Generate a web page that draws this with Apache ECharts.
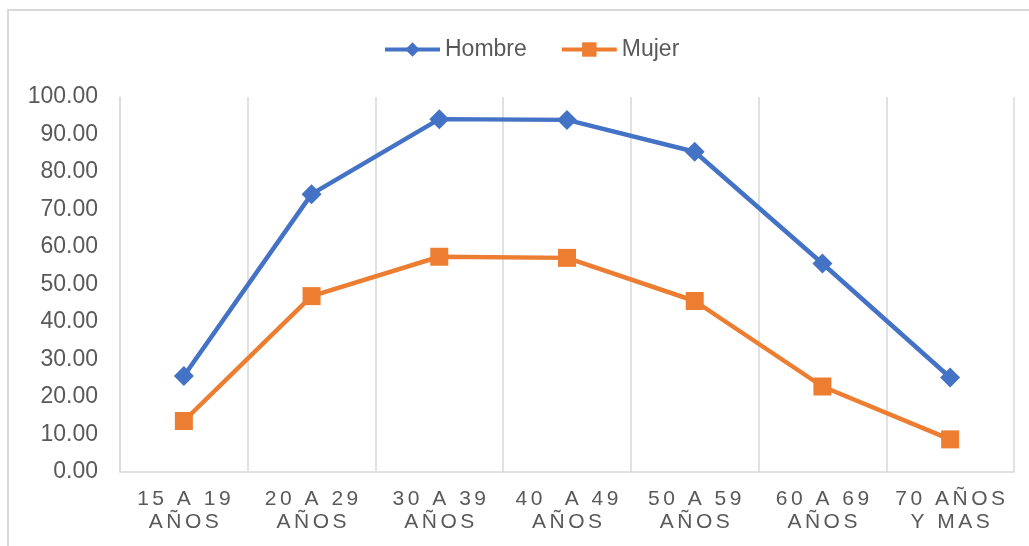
<!DOCTYPE html>
<html>
<head>
<meta charset="utf-8">
<style>
  html, body { margin: 0; padding: 0; background: #fff; }
  #chart { width: 1029px; height: 546px; }
</style>
<script src="https://cdn.jsdelivr.net/npm/echarts@6/dist/echarts.min.js"></script>
</head>
<body>
<div id="chart"></div>
<script>
// Age groups (two-line labels)
const categories = [
  '15 A 19\nAÑOS',
  '20 A 29\nAÑOS',
  '30 A 39\nAÑOS',
  '40  A 49\nAÑOS',
  '50 A 59\nAÑOS',
  '60 A 69\nAÑOS',
  '70 AÑOS\nY MAS'
];

// Rates by sex
const hombre = [25.6, 74.1, 94.1, 93.9, 85.4, 55.6, 25.2];
const mujer  = [13.6, 46.9, 57.4, 57.1, 45.6, 22.8, 8.7];

// Value axis range
const yMin = 0;
const yMax = 100;
const yStep = 10;

const FONT = '"Liberation Sans", Arial, sans-serif';
const TEXT = '#595959';
const GRIDC = '#d9d9d9';

// spread the characters of the category labels a little
function spaced(v) {
  return v.split('\n').map(line => Array.from(line).join('\u200A\u200A')).join('\n');
}

const chart = echarts.init(document.getElementById('chart'), null, { renderer: 'canvas' });

chart.setOption({
  animation: false,
  backgroundColor: '#ffffff',
  textStyle: { fontFamily: FONT },
  graphic: [{
    type: 'rect',
    shape: { x: 8, y: 10, width: 1040, height: 560 },
    style: { fill: 'none', stroke: GRIDC, lineWidth: 2 },
    silent: true,
    z: -1
  }],
  legend: {
    top: 33,
    left: 378,
    itemWidth: 55,
    itemHeight: 18,
    itemGap: 33,
    lineStyle: { width: 4 },
    textStyle: { fontFamily: FONT, fontSize: 23, color: TEXT },
    data: ['Hombre', 'Mujer']
  },
  grid: { left: 120, right: 15, top: 97, bottom: 74, containLabel: false },
  xAxis: {
    type: 'category',
    data: categories,
    boundaryGap: true,
    axisLine: { show: true, lineStyle: { color: GRIDC, width: 1.5 } },
    axisTick: { show: false },
    splitLine: { show: true, lineStyle: { color: GRIDC, width: 1.5 } },
    axisLabel: {
      interval: 0,
      margin: 16,
      fontFamily: FONT,
      fontSize: 21,
      lineHeight: 23,
      color: TEXT,
      formatter: spaced
    }
  },
  yAxis: {
    type: 'value',
    min: yMin,
    max: yMax,
    interval: yStep,
    axisLine: { show: true, lineStyle: { color: GRIDC, width: 1.5 } },
    axisTick: { show: false },
    splitLine: { show: false },
    axisLabel: {
      margin: 22,
      fontFamily: FONT,
      fontSize: 23,
      color: TEXT,
      formatter: v => v.toFixed(2)
    }
  },
  series: [
    {
      name: 'Hombre',
      type: 'line',
      data: hombre,
      symbol: 'diamond',
      symbolSize: 20,
      lineStyle: { color: '#4472C4', width: 4.5 },
      itemStyle: { color: '#4472C4' }
    },
    {
      name: 'Mujer',
      type: 'line',
      data: mujer,
      symbol: 'rect',
      symbolSize: 18,
      lineStyle: { color: '#ED7D31', width: 4.5 },
      itemStyle: { color: '#ED7D31' }
    }
  ]
});
</script>
</body>
</html>
